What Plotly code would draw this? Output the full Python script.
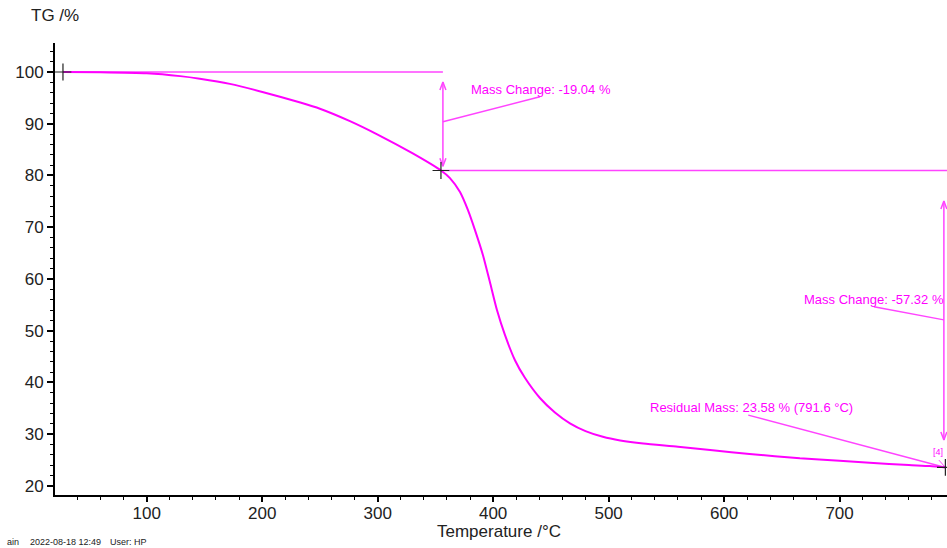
import plotly.graph_objects as go

# ---- data ----
temperature = [27.5, 60, 100, 129, 146, 172, 201, 233, 250, 276, 300, 330, 354.8,
               362.6, 371.3, 378.2, 384.2, 391.2, 397.2, 403.3, 410.2, 418.9, 427.5,
               440.5, 453.5, 466.5, 480, 495, 510, 530, 560, 590, 622,
               665.6, 700, 726, 760, 778, 791.6]
mass = [100.0, 99.95, 99.75, 99.2, 98.7, 97.7, 96.1, 94.1, 92.9, 90.5, 87.9, 84.3, 80.96,
        79.5, 76.8, 73.3, 69.5, 64.6, 59.4, 54.0, 49.2, 44.3, 40.9,
        37.0, 34.2, 32.1, 30.6, 29.5, 28.8, 28.2, 27.6, 26.9, 26.2,
        25.35, 24.9, 24.5, 24.05, 23.85, 23.58]

x_ticks = [100, 200, 300, 400, 500, 600, 700]
y_ticks = [20, 30, 40, 50, 60, 70, 80, 90, 100]

step1_temp, step1_mass = 354.8, 80.96
start_temp, start_mass = 27.5, 100.0
end_temp, end_mass = 791.6, 23.58
label1 = "Mass Change: -19.04 %"
label2 = "Mass Change: -57.32 %"
label3 = "Residual Mass: 23.58 % (791.6 °C)"

MAG = "#ff00ff"
MAG2 = "#ff44ff"
XR = [20.6, 793]
YR = [18.26, 105.6]
KX = 892 / (XR[1] - XR[0])   # px per degC
KY = 452 / (YR[1] - YR[0])   # px per %

fig = go.Figure()

def seg(xs, ys, color=MAG2, width=1.5):
    fig.add_trace(go.Scatter(x=xs, y=ys, mode="lines", line=dict(color=color, width=width),
                             hoverinfo="skip", showlegend=False, cliponaxis=False))

def chevron(x, y, up):
    dx = 3 / KX
    dy = 8 / KY
    s = -1 if up else 1
    seg([x - dx, x, x + dx], [y + s * dy, y, y + s * dy])

# reference lines
seg([start_temp, 356.5], [start_mass, start_mass])
seg([step1_temp, XR[1]], [step1_mass, step1_mass])

# arrow 1
a1x = 356.5
seg([a1x, a1x], [98.07, 81.8])
chevron(a1x, 98.07, True)
chevron(a1x, 81.8, False)
seg([a1x, 440.5], [90.4, 95.2])

# arrow 2
a2x = 790.3
seg([a2x, a2x], [75.07, 28.9])
chevron(a2x, 75.07, True)
chevron(a2x, 28.9, False)
seg([729.7, a2x], [54.65, 52.1])

# residual leader
seg([620.9, end_temp], [33.7, end_mass])
seg([786, end_temp], [25.0, end_mass], width=1)

# TG curve
fig.add_trace(go.Scatter(x=temperature, y=mass, mode="lines",
                         line=dict(color=MAG, width=2, shape="spline", smoothing=0.6),
                         hoverinfo="skip", showlegend=False))

# crosses
fig.add_trace(go.Scatter(x=[start_temp, step1_temp, end_temp], y=[start_mass, step1_mass, end_mass],
                         mode="markers", cliponaxis=False,
                         marker=dict(symbol="cross-thin-open", size=12, color="#222",
                                     line=dict(color="#222", width=1.2)),
                         hoverinfo="skip", showlegend=False))

tf = dict(family="Liberation Sans, Arial", size=13, color=MAG)
axfont = dict(family="Liberation Sans, Arial", size=17, color="#222")
ann = [
    dict(x=379, y=96.6, text=label1, xanchor="left", yanchor="middle", showarrow=False, font=tf),
    dict(x=791.8, y=56.1, text=label2, xanchor="right", yanchor="middle", showarrow=False, font=tf),
    dict(x=533.8, y=35.2, text=label3, xanchor="left", yanchor="middle", showarrow=False, font=tf),
    dict(x=785, y=26.6, text="[4]", xanchor="center", yanchor="middle", showarrow=False,
         font=dict(family="Liberation Sans, Arial", size=9, color=MAG)),
    dict(x=0, y=1, xref="paper", yref="paper", text="TG /%", showarrow=False, xanchor="center",
         yanchor="middle", yshift=28, font=axfont),
    dict(x=0.5, y=0, xref="paper", yref="paper", text="Temperature /°C", showarrow=False,
         xanchor="center", yanchor="middle", yshift=-36, xshift=-2, font=axfont),
]
sf = dict(family="Liberation Sans, Arial", size=9, color="#222")
for txt, px in [("ain", 5), ("2022-08-18 12:49", 28), ("User: HP", 108)]:
    ann.append(dict(x=0, y=0, xref="paper", yref="paper", text=txt, showarrow=False,
                    xanchor="left", yanchor="middle", xshift=px - 55, yshift=-47, font=sf))

fig.update_layout(
    width=947, height=548,
    margin=dict(l=55, r=0, t=43, b=53),
    paper_bgcolor="white", plot_bgcolor="white",
    annotations=ann,
    xaxis=dict(range=XR, tickvals=x_ticks, showgrid=False, zeroline=False,
               showline=True, linecolor="black", linewidth=2,
               ticks="outside", ticklen=5, tickwidth=1.5, tickcolor="black",
               minor=dict(dtick=20, tick0=0, ticks="outside", ticklen=3, tickcolor="black", tickwidth=1),
               tickfont=axfont, ticklabelstandoff=-3),
    yaxis=dict(range=YR, tickvals=y_ticks, showgrid=False, zeroline=False,
               showline=True, linecolor="black", linewidth=2,
               ticks="outside", ticklen=6, tickwidth=1.5, tickcolor="black",
               minor=dict(dtick=2, tick0=0, ticks="outside", ticklen=3, tickcolor="black", tickwidth=1),
               tickfont=axfont),
)

fig.write_html("out.html", config={"displayModeBar": False},
               post_script="document.body.style.margin='0';document.body.style.overflow='hidden';")
